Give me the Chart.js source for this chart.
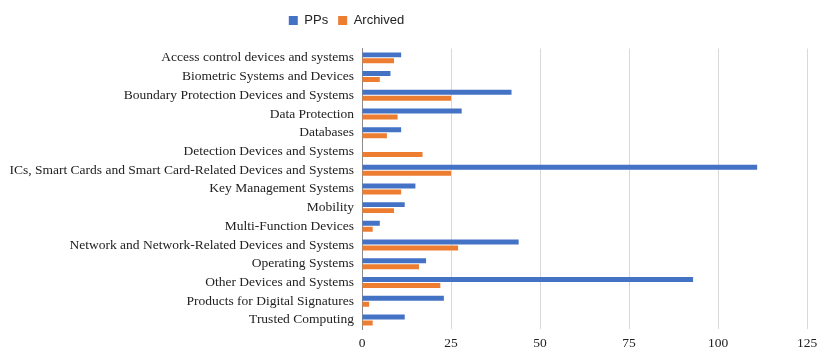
<!DOCTYPE html>
<html>
<head>
<meta charset="utf-8">
<script src="https://cdn.jsdelivr.net/npm/chart.js"></script>
<style>
  html, body { margin: 0; padding: 0; background: #fff; }
  #wrap { width: 821px; height: 359px; }
</style>
</head>
<body>
<div id="wrap"><canvas id="chart" width="821" height="359"></canvas></div>
<script>
const categories = [
  'Access control devices and systems',
  'Biometric Systems and Devices',
  'Boundary Protection Devices and Systems',
  'Data Protection',
  'Databases',
  'Detection Devices and Systems',
  'ICs, Smart Cards and Smart Card-Related Devices and Systems',
  'Key Management Systems',
  'Mobility',
  'Multi-Function Devices',
  'Network and Network-Related Devices and Systems',
  'Operating Systems',
  'Other Devices and Systems',
  'Products for Digital Signatures',
  'Trusted Computing'
];
const ppsValues = [11, 8, 42, 28, 11, 0, 111, 15, 12, 5, 44, 18, 93, 23, 12];
const archivedValues = [9, 5, 25, 10, 7, 17, 25, 11, 9, 3, 27, 16, 22, 2, 3];
const xTicks = [0, 25, 50, 75, 100, 125];

// extra gap under the legend, and shift it left like the original
const legendTweak = {
  id: 'legendTweak',
  beforeLayout(chart) {
    const lg = chart.legend;
    if (lg && !lg._patched) {
      const fit = lg.fit;
      lg.fit = function() {
        fit.call(this);
        this.height += 11.5;
      };
      lg._patched = true;
    }
  },
  afterLayout(chart) {
    const lg = chart.legend;
    lg.left -= 64;
    lg.right -= 64;
  }
};

new Chart(document.getElementById('chart').getContext('2d'), {
  type: 'bar',
  data: {
    labels: categories,
    datasets: [{
      label: 'PPs',
      data: ppsValues,
      backgroundColor: '#4472C4',
      categoryPercentage: 0.64,
      barPercentage: 0.83
    }, {
      label: 'Archived',
      data: archivedValues,
      backgroundColor: '#ED7D31',
      categoryPercentage: 0.64,
      barPercentage: 0.83
    }]
  },
  options: {
    indexAxis: 'y',
    responsive: false,
    animation: false,
    layout: {
      padding: { top: 4, left: 0, right: 0, bottom: 1.5 }
    },
    plugins: {
      legend: {
        position: 'top',
        labels: {
          boxWidth: 9,
          boxHeight: 9,
          padding: 10,
          color: '#222',
          font: { family: 'Liberation Sans, Arial, sans-serif', size: 13 }
        }
      },
      tooltip: { enabled: false }
    },
    scales: {
      x: {
        min: 0,
        max: 125,
        afterBuildTicks(scale) {
          scale.ticks = xTicks.map(v => ({ value: v }));
        },
        afterFit(scale) { scale.paddingRight = 14; },
        grid: { color: '#d9d9d9', drawTicks: false },
        border: { display: false },
        ticks: {
          padding: 6,
          color: '#222',
          font: { family: 'Liberation Serif, Times New Roman, serif', size: 13.5 }
        }
      },
      y: {
        afterFit(scale) { scale.width = 362; },
        grid: { display: false, drawTicks: false },
        border: { color: '#8c8c8c', width: 1 },
        ticks: {
          padding: 8,
          autoSkip: false,
          color: '#222',
          font: { family: 'Liberation Serif, Times New Roman, serif', size: 13.5 }
        }
      }
    }
  },
  plugins: [legendTweak]
});
</script>
</body>
</html>
